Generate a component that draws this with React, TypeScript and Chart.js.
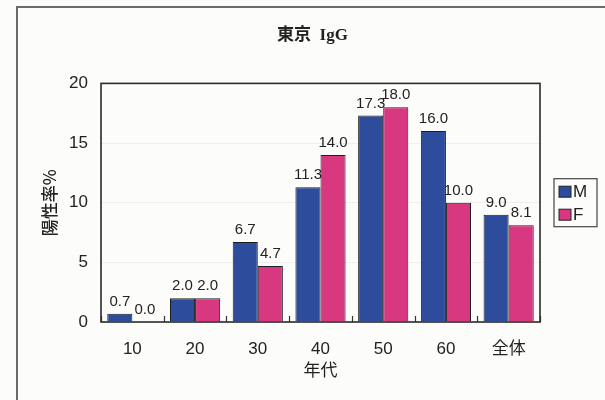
import React, { useEffect, useRef } from "react";
import { Chart, registerables } from "chart.js";

Chart.register(...registerables);

const categories = ["10", "20", "30", "40", "50", "60", "全体"];
const maleValues = [0.7, 2.0, 6.7, 11.3, 17.3, 16.0, 9.0];
const femaleValues = [0.0, 2.0, 4.7, 14.0, 18.0, 10.0, 8.1];
const seriesLabels = ["M", "F"];
const seriesColors = ["#2d4c9c", "#d8387f"];
const chartTitle = "東京  IgG";
const yTitle = "陽性率%";
const xTitle = "年代";

const SANS = "'Liberation Sans', Arial, 'Noto Sans CJK JP', sans-serif";

const decorPlugin = {
  id: "decor",
  afterDatasetsDraw(chart: any) {
    const { ctx, chartArea } = chart;
    const xs = chart.scales.x;
    ctx.save();
    // value labels
    ctx.font = "15px " + SANS;
    ctx.fillStyle = "#222";
    ctx.textAlign = "center";
    ctx.textBaseline = "alphabetic";
    chart.data.datasets.forEach((ds: any, di: number) => {
      const meta = chart.getDatasetMeta(di);
      meta.data.forEach((el: any, i: number) => {
        ctx.fillText(Number(ds.data[i]).toFixed(1), el.x, el.y - 8);
      });
    });
    // inward category ticks on the x axis
    ctx.strokeStyle = "#333";
    ctx.lineWidth = 1.2;
    for (let i = 0; i <= categories.length; i++) {
      const x = Math.round(xs.getPixelForValue(i - 0.5)) + 0.5;
      ctx.beginPath();
      ctx.moveTo(x, chartArea.bottom);
      ctx.lineTo(x, chartArea.bottom - 6);
      ctx.stroke();
    }
    // plot frame
    ctx.strokeStyle = "#2a2a2a";
    ctx.lineWidth = 1.6;
    ctx.strokeRect(chartArea.left, chartArea.top, chartArea.right - chartArea.left, chartArea.bottom - chartArea.top);
    // legend
    const lx = chartArea.right + 14;
    const cy = (chartArea.top + chartArea.bottom) / 2;
    const lw = 43;
    const lh = 48;
    const ly = cy - lh / 2;
    ctx.lineWidth = 1.2;
    ctx.strokeStyle = "#444";
    ctx.strokeRect(lx, ly, lw, lh);
    ctx.font = "17px " + SANS;
    ctx.textAlign = "left";
    ctx.textBaseline = "middle";
    seriesLabels.forEach((lab, k) => {
      const yy = ly + 13 + k * 23;
      ctx.fillStyle = seriesColors[k];
      ctx.fillRect(lx + 5, yy - 5.5, 12, 11);
      ctx.strokeStyle = "#222";
      ctx.lineWidth = 1;
      ctx.strokeRect(lx + 5, yy - 5.5, 12, 11);
      ctx.fillStyle = "#222";
      ctx.fillText(lab, lx + 19, yy + 1);
    });
    ctx.restore();
  },
};

export default function App() {
  const ref = useRef<HTMLCanvasElement | null>(null);
  useEffect(() => {
    if (!ref.current) return;
    const chart = new Chart(ref.current, {
      type: "bar",
      data: {
        labels: categories,
        datasets: [
          {
            label: seriesLabels[0],
            data: maleValues,
            backgroundColor: seriesColors[0],
            borderColor: "#1e1e1e",
            borderWidth: 1,
          },
          {
            label: seriesLabels[1],
            data: femaleValues,
            backgroundColor: seriesColors[1],
            borderColor: "#1e1e1e",
            borderWidth: 1,
          },
        ],
      },
      options: {
        animation: false,
        responsive: false,
        maintainAspectRatio: false,
        devicePixelRatio: 1,
        layout: { padding: { left: 20, right: 0, top: 0, bottom: 0 } },
        datasets: { bar: { categoryPercentage: 0.8, barPercentage: 1.0 } },
        plugins: {
          legend: { display: false },
          tooltip: { enabled: false },
          title: {
            display: true,
            text: chartTitle,
            color: "#222",
            font: { family: "'Liberation Serif', 'Noto Sans CJK JP', serif", size: 17, weight: "bold" },
            padding: { top: 25, bottom: 38 },
          },
        },
        scales: {
          x: {
            grid: { display: false, drawTicks: false },
            border: { display: false },
            ticks: { color: "#222", font: { family: SANS, size: 17 }, padding: 17 },
            title: {
              display: true,
              text: xTitle,
              color: "#222",
              font: { family: "'Noto Sans CJK JP', " + SANS, size: 17 },
              padding: { top: 0, bottom: 20 },
            },
            afterFit: (s: any) => {
              s.height = 78;
            },
          },
          y: {
            min: 0,
            max: 20,
            ticks: { stepSize: 5, color: "#222", font: { family: SANS, size: 17 }, padding: 13 },
            grid: { color: "rgba(0,0,0,0.05)", drawTicks: false },
            border: { display: false },
            title: {
              display: true,
              text: yTitle,
              color: "#222",
              font: { family: "'Noto Sans CJK JP', " + SANS, size: 17, weight: "500" },
              padding: { top: 19, bottom: 0 },
            },
            afterFit: (s: any) => {
              s.width = 81;
            },
          },
          y2: {
            position: "right",
            display: true,
            grid: { display: false, drawTicks: false },
            border: { display: false },
            ticks: { display: false },
            afterFit: (s: any) => {
              s.width = 65;
            },
          },
        },
      },
      plugins: [decorPlugin],
    } as any);
    return () => chart.destroy();
  }, []);

  return (
    <div
      style={{
        position: "fixed",
        left: 0,
        top: 0,
        width: 605,
        height: 400,
        overflow: "hidden",
        background: "#fcfcfa",
      }}
    >
      <div
        style={{
          position: "absolute",
          left: 16,
          top: 6,
          width: 700,
          height: 500,
          borderLeft: "2px solid #6a6a6a",
          borderTop: "2px solid #6a6a6a",
        }}
      />
      <canvas ref={ref} width={605} height={400} style={{ position: "absolute", left: 0, top: 0, width: 605, height: 400 }} />
    </div>
  );
}
